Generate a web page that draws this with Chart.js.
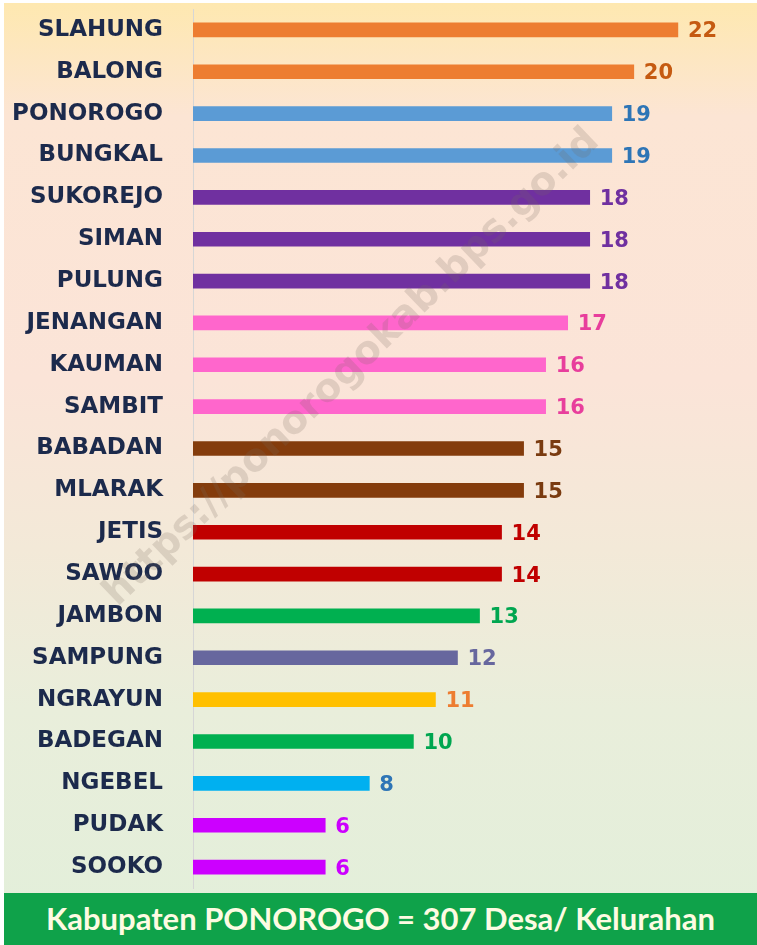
<!DOCTYPE html>
<html>
<head>
<meta charset="utf-8">
<script src="https://cdn.jsdelivr.net/npm/chart.js@4"></script>
<style>
  html, body { margin: 0; padding: 0; background: #fff; }
  #wrap {
    position: absolute; left: 4px; top: 3px; width: 753px; height: 942px;
    background: linear-gradient(to bottom, #fee8b0 0%, #fce5d4 12%, #fbe4d8 40%, #f3e9d8 58%, #e9eedb 75%, #e2efda 100%);
  }
  #desaChart { position: absolute; left: -4px; top: -3px; }
  #footer {
    position: absolute; left: 0; top: 890px; width: 753px; height: 52px;
    background: #0fa24a; color: #fdfbe2;
    font: bold 31px Lato, sans-serif; text-align: center; line-height: 50px;
  }
</style>
</head>
<body>
<div id="wrap">
  <canvas id="desaChart" width="757" height="893"></canvas>
  <div id="footer">Kabupaten PONOROGO = 307 Desa/ Kelurahan</div>
</div>
<script>
const kecamatan = ["SLAHUNG", "BALONG", "PONOROGO", "BUNGKAL", "SUKOREJO", "SIMAN", "PULUNG",
  "JENANGAN", "KAUMAN", "SAMBIT", "BABADAN", "MLARAK", "JETIS", "SAWOO", "JAMBON",
  "SAMPUNG", "NGRAYUN", "BADEGAN", "NGEBEL", "PUDAK", "SOOKO"];
const jumlahDesa = [22, 20, 19, 19, 18, 18, 18, 17, 16, 16, 15, 15, 14, 14, 13, 12, 11, 10, 8, 6, 6];

const barColors = ["#ed7d31", "#ed7d31", "#5b9bd5", "#5b9bd5", "#7030a0", "#7030a0", "#7030a0",
  "#ff66cc", "#ff66cc", "#ff66cc", "#843c0c", "#843c0c", "#c00000", "#c00000", "#00b050",
  "#67679e", "#ffc000", "#00b050", "#00b0f0", "#cc00ff", "#cc00ff"];
const labelColors = ["#c55a11", "#c55a11", "#2e75b6", "#2e75b6", "#7030a0", "#7030a0", "#7030a0",
  "#e83e9c", "#e83e9c", "#e83e9c", "#7a3b10", "#7a3b10", "#c00000", "#c00000", "#00a650",
  "#67679e", "#ed7d31", "#00a650", "#2e75b6", "#cc00ff", "#cc00ff"];

const ctx = document.getElementById("desaChart").getContext("2d");

// angka di ujung batang
const valueLabels = {
  id: "valueLabels",
  afterDatasetsDraw(chart) {
    const c = chart.ctx;
    const meta = chart.getDatasetMeta(0);
    c.save();
    c.font = "bold 21px 'DejaVu Sans', sans-serif";
    c.textBaseline = "middle";
    c.textAlign = "left";
    meta.data.forEach((bar, i) => {
      c.fillStyle = labelColors[i];
      c.fillText(jumlahDesa[i], bar.x + 10, bar.y + 2);
    });
    c.restore();
  },
};

// watermark miring
const watermark = {
  id: "watermark",
  afterDraw(chart) {
    const c = chart.ctx;
    c.save();
    c.translate(352, 368);
    c.rotate(-Math.PI / 4 + 0.02);
    c.font = "bold 39px 'DejaVu Sans', sans-serif";
    c.fillStyle = "rgba(120, 105, 95, 0.2)";
    c.textAlign = "center";
    c.textBaseline = "middle";
    c.fillText("https://ponorogokab.bps.go.id", 0, 0);
    c.restore();
  },
};

new Chart(ctx, {
  type: "bar",
  data: {
    labels: kecamatan,
    datasets: [{
      data: jumlahDesa,
      backgroundColor: barColors,
      barThickness: 14,
      borderWidth: 0,
    }],
  },
  options: {
    indexAxis: "y",
    responsive: false,
    animation: false,
    layout: { padding: { top: 9, bottom: 5, left: 0, right: 13 } },
    plugins: {
      legend: { display: false },
      tooltip: { enabled: false },
    },
    scales: {
      x: { display: false, min: 0, max: 25 },
      y: {
        afterFit(scale) {
          scale.width = 193;
          scale.paddingTop = 0;
          scale.paddingBottom = 0;
        },
        grid: { display: false },
        border: { display: true, color: "#d6d6d6", width: 1 },
        ticks: {
          padding: 22,
          autoSkip: false,
          color: "#1c2a4c",
          font: { family: "'DejaVu Sans', sans-serif", weight: "bold", size: 23 },
        },
      },
    },
  },
  plugins: [valueLabels, watermark],
});
</script>
</body>
</html>
